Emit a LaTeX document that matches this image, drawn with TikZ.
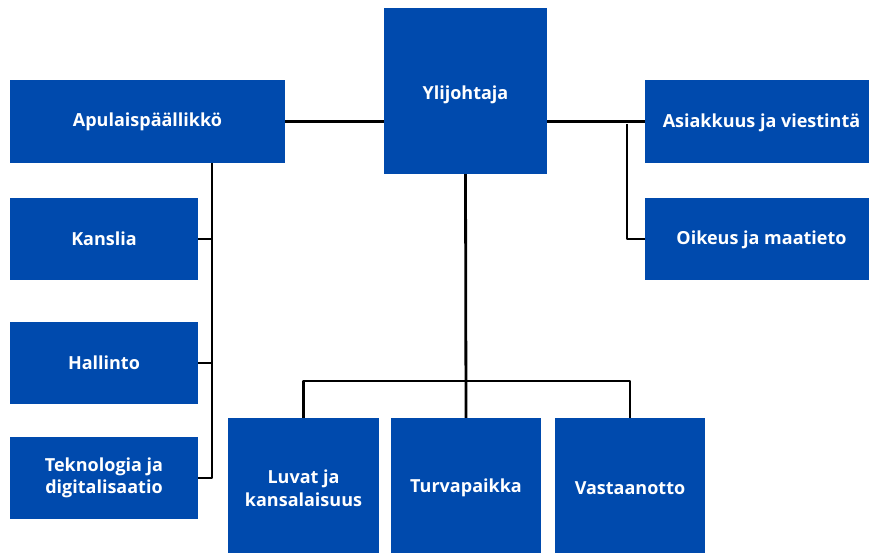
\documentclass[tikz,border=0pt]{standalone}
\usepackage{fontspec}
\setmainfont{Open Sans}[BoldFont={* Bold}]
\definecolor{boxblue}{HTML}{004AAD}
\newcommand{\lowertext}[2]{\raisebox{-#1}[\height][\depth]{#2}}
\begin{document}
\begin{tikzpicture}[x=1pt,y=-1pt,
  unit/.style={rectangle,fill=boxblue,text=white,inner sep=0pt,align=center,
    font=\fontsize{18}{22.5}\selectfont\bfseries},
  link/.style={draw=black,line width=2.8pt,line join=round}]
\useasboundingbox (0,0) rectangle (869,553);
\clip (0,0) rectangle (869,553);
\node[unit,minimum width=163pt,minimum height=166pt] (yli) at (465.5,91) {\lowertext{3.5pt}{Ylijohtaja}};
\node[unit,minimum width=275pt,minimum height=83pt] (apu) at (147.5,121.5) {Apulaispäällikkö};
\node[unit,minimum width=233pt,minimum height=83pt] (asi) at (761.5,121.5) {\lowertext{1.5pt}{Asiakkuus ja viestintä}};
\node[unit,minimum width=233pt,minimum height=82pt] (oik) at (761.5,239) {\lowertext{1pt}{Oikeus ja maatieto}};
\node[unit,minimum width=188pt,minimum height=82pt] (kan) at (104,239) {Kanslia};
\node[unit,minimum width=188pt,minimum height=82pt] (hal) at (104,363) {Hallinto};
\node[unit,minimum width=188pt,minimum height=82pt] (tek) at (104,478) {Teknologia ja\\digitalisaatio};
\node[unit,minimum width=151pt,minimum height=140pt] (luv) at (303.5,488) {Luvat ja\\kansalaisuus};
\node[unit,minimum width=150pt,minimum height=140pt] (tur) at (466,488) {Turvapaikka};
\node[unit,minimum width=150pt,minimum height=140pt] (vas) at (630,488) {Vastaanotto};
% connectors
\coordinate (lt) at (212,163);
\coordinate (lb) at (212,478);
\coordinate (rj) at (627,124);
\coordinate (bus) at (466,381);
\draw[link] (apu.east) -- (apu.east -| yli.west);
\draw[link] (asi.west -| yli.east) -- (asi.west);
\draw[link] (rj) |- (oik.west);
\draw[link] (lt) -- (lb) -- (tek.east |- lb);
\draw[link] (kan.east) -- (kan.east -| lt);
\draw[link] (hal.east) -- (hal.east -| lt);
\draw[link] (yli.south) -- (tur.north);
\draw[link] (luv.north) |- (bus) -| (vas.north);
\end{tikzpicture}
\end{document}
